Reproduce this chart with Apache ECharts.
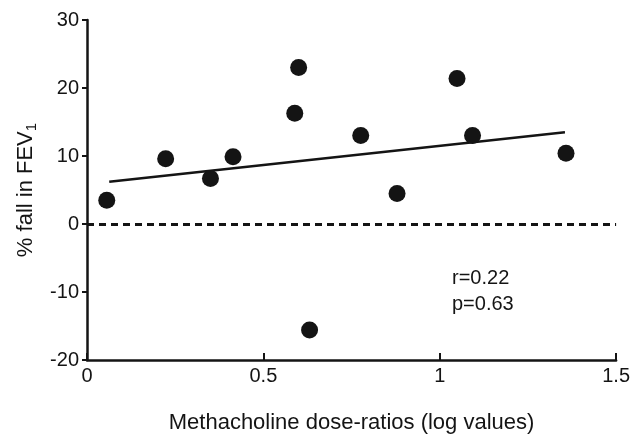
<!DOCTYPE html>
<html lang="en">
<head>
    <meta charset="UTF-8">
    <title>FEV1 vs methacholine dose-ratio</title>
    <style>
        html, body { margin: 0; padding: 0; background: #fff; }
        #main { width: 633px; height: 439px; }
    </style>
</head>
<body>
<div id="main"></div>
<script src="https://cdn.jsdelivr.net/npm/echarts@6/dist/echarts.min.js"></script>
<script>
    // dose-ratio (log) and % fall in FEV1
    const doseLog = [0.056, 0.223, 0.35, 0.414, 0.589, 0.600, 0.631, 0.776, 0.879, 1.049, 1.093, 1.358];
    const fallFev = [3.5, 9.6, 6.7, 9.9, 16.3, 23.0, -15.6, 13.0, 4.5, 21.4, 13.0, 10.4];
    // regression line end points
    const fitX = [0.063, 1.355];
    const fitY = [6.2, 13.5];
    const xTicks = [0, 0.5, 1, 1.5];
    const yTicks = [-20, -10, 0, 10, 20, 30];

    const font = '"Liberation Sans", Arial, sans-serif';
    const ink = '#141414';

    let chart = echarts.init(document.getElementById('main'));

    const option = {
        animation: false,
        backgroundColor: '#fff',
        grid: {left: 87, right: 16, top: 20, bottom: 73},
        xAxis: {
            type: 'value',
            min: xTicks[0],
            max: xTicks[xTicks.length - 1],
            interval: 0.5,
            name: 'Methacholine dose-ratios (log values)',
            nameLocation: 'middle',
            nameGap: 52,
            nameTextStyle: {fontFamily: font, fontSize: 22, color: ink},
            axisLine: {onZero: false, lineStyle: {color: ink, width: 2.5}},
            axisTick: {inside: true, length: 7, lineStyle: {color: ink, width: 2}},
            axisLabel: {fontFamily: font, fontSize: 20, color: ink, margin: 6,
                formatter: v => String(v)},
            splitLine: {show: false}
        },
        yAxis: {
            type: 'value',
            min: yTicks[0],
            max: yTicks[yTicks.length - 1],
            interval: 10,
            name: '{a|% fall in FEV}{s|1}',
            nameLocation: 'middle',
            nameGap: 46,
            nameTextStyle: {
                rich: {
                    a: {fontFamily: font, fontSize: 22, color: ink},
                    s: {fontFamily: font, fontSize: 15, color: ink, verticalAlign: 'bottom', padding: [12, 0, 0, 0]}
                }
            },
            axisLine: {onZero: false, lineStyle: {color: ink, width: 2.5}},
            axisTick: {length: 5, lineStyle: {color: ink, width: 2}},
            axisLabel: {fontFamily: font, fontSize: 20, color: ink, margin: 8},
            splitLine: {show: false}
        },
        graphic: [{
            type: 'text',
            left: 452,
            top: 265,
            style: {
                text: 'r=0.22\np=0.63',
                fontFamily: font,
                fontSize: 20,
                lineHeight: 26,
                fill: ink
            }
        }],
        series: [
            {
                type: 'scatter',
                symbol: 'circle',
                symbolSize: 17,
                itemStyle: {color: ink, opacity: 1},
                data: doseLog.map((x, i) => [x, fallFev[i]]),
                markLine: {
                    silent: true,
                    symbol: 'none',
                    label: {show: false},
                    lineStyle: {type: [7, 5], color: ink, width: 3},
                    data: [{yAxis: 0}]
                },
                z: 3
            },
            {
                type: 'line',
                showSymbol: false,
                lineStyle: {color: ink, width: 2.5},
                data: fitX.map((x, i) => [x, fitY[i]]),
                z: 2
            }
        ]
    };

    chart.setOption(option);
</script>
</body>
</html>
